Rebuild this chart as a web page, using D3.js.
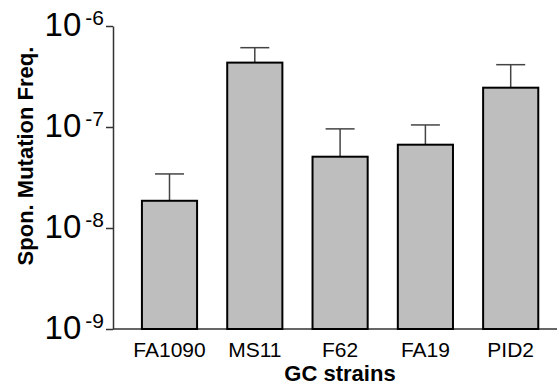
<!DOCTYPE html>
<html>
<head>
<meta charset="utf-8">
<script src="https://cdn.jsdelivr.net/npm/d3@7"></script>
<style>
  body { margin: 0; background: #fff; }
  svg { display: block; font-family: "Liberation Sans", Arial, sans-serif; }
</style>
</head>
<body>
<div id="chart"></div>
<script>
// data
const strains = ["FA1090", "MS11", "F62", "FA19", "PID2"];
const freq = [1.86e-8, 4.34e-7, 5.08e-8, 6.68e-8, 2.45e-7];
const sem = [1.57e-8, 1.76e-7, 4.5e-8, 3.8e-8, 1.69e-7];
const yTicks = [1e-9, 1e-8, 1e-7, 1e-6];
const yExp = ["-9", "-8", "-7", "-6"];

const width = 557, height = 388;

const svg = d3.select("#chart").append("svg")
  .attr("width", width)
  .attr("height", height);

const y = d3.scaleLog()
  .domain([1e-9, 1e-6])
  .range([329, 26]);

const x = d3.scaleBand()
  .domain(strains)
  .range([126.85, 553.35])
  .paddingInner(0.33)
  .paddingOuter(0.165);

// y axis
const yAxis = svg.append("g")
  .attr("transform", "translate(113,0)")
  .call(d3.axisLeft(y).tickValues(yTicks).tickSize(7).tickSizeOuter(0).tickFormat(""));
yAxis.select(".domain").attr("stroke", "#333").attr("stroke-width", 1.5);
yAxis.selectAll(".tick line").attr("stroke", "#333").attr("stroke-width", 1.5);

// tick labels as 10^n
yTicks.forEach((t, i) => {
  const lab = svg.append("text")
    .attr("x", 104)
    .attr("y", y(t) + 10)
    .attr("text-anchor", "end")
    .attr("fill", "#000");
  lab.append("tspan").attr("font-size", 33).text("10");
  lab.append("tspan")
    .attr("font-size", 21)
    .attr("dx", 4)
    .attr("dy", -11)
    .text(yExp[i]);
});

// x axis baseline
svg.append("line")
  .attr("x1", 113).attr("x2", width)
  .attr("y1", y(1e-9)).attr("y2", y(1e-9))
  .attr("stroke", "#333")
  .attr("stroke-width", 1.5);

const xAxis = svg.append("g")
  .attr("transform", "translate(0," + y(1e-9) + ")")
  .call(d3.axisBottom(x).tickSize(0).tickPadding(13));
xAxis.select(".domain").remove();
xAxis.selectAll(".tick text")
  .attr("font-size", 21)
  .attr("font-family", "Liberation Sans, Arial, sans-serif")
  .attr("fill", "#000");

// error bars (upper only)
const err = svg.append("g");
strains.forEach((s, i) => {
  const cx = x(s) + x.bandwidth() / 2;
  err.append("line")
    .attr("x1", cx).attr("x2", cx)
    .attr("y1", y(freq[i])).attr("y2", y(freq[i] + sem[i]))
    .attr("stroke", "#444").attr("stroke-width", 1.5);
  err.append("line")
    .attr("x1", cx - 14.5).attr("x2", cx + 14.5)
    .attr("y1", y(freq[i] + sem[i])).attr("y2", y(freq[i] + sem[i]))
    .attr("stroke", "#444").attr("stroke-width", 1.5);
});

// bars
svg.append("g").selectAll("rect")
  .data(strains)
  .enter()
  .append("rect")
  .attr("x", d => x(d) + 1)
  .attr("width", x.bandwidth() - 2)
  .attr("y", (d, i) => y(freq[i]))
  .attr("height", (d, i) => y(1e-9) - y(freq[i]))
  .attr("fill", "#bebebe")
  .attr("stroke", "#000")
  .attr("stroke-width", 2);

// axis titles
svg.append("text")
  .attr("x", 340)
  .attr("y", 381)
  .attr("text-anchor", "middle")
  .attr("font-size", 22)
  .attr("font-weight", "bold")
  .text("GC strains");

svg.append("text")
  .attr("transform", "translate(33,156) rotate(-90)")
  .attr("text-anchor", "middle")
  .attr("font-size", 22)
  .attr("font-weight", "bold")
  .text("Spon. Mutation Freq.");
</script>
</body>
</html>
